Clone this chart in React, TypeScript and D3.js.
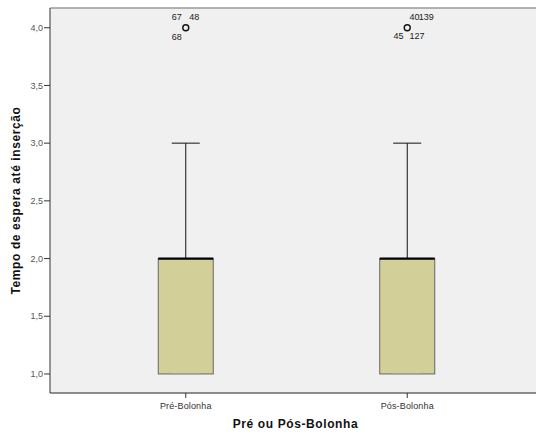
import React from "react";
import * as d3 from "d3";

const categories = ["Pré-Bolonha", "Pós-Bolonha"];
const whiskerLow = [1.0, 1.0];
const q1 = [1.0, 1.0];
const median = [2.0, 2.0];
const q3 = [2.0, 2.0];
const whiskerHigh = [3.0, 3.0];
const outlierValue = [4.0, 4.0];
const outlierLabels = [
  ["67", "48", "68"],
  ["40", "139", "45", "127"],
];
const yTicks = [1.0, 1.5, 2.0, 2.5, 3.0, 3.5, 4.0];

// label placement (layout only)
const labelLayout = [
  [
    { dx: -4, dy: -7.5, anchor: "end" },
    { dx: 3.6, dy: -8, anchor: "start" },
    { dx: -4, dy: 12, anchor: "end" },
  ],
  [
    { dx: 2.3, dy: -7.5, anchor: "start" },
    { dx: 11.5, dy: -7.5, anchor: "start" },
    { dx: -3.7, dy: 11.5, anchor: "end" },
    { dx: 2.3, dy: 11.5, anchor: "start" },
  ],
];

export default function App() {
  const W = 536, H = 432;
  const left = 50, top = 8, bottom = 393, right = 543;
  const y = d3.scaleLinear().domain([0.835, 4.171]).range([bottom, top]);
  const x = d3.scalePoint<string>().domain(categories).range([left, right]).padding(0.613);
  const boxW = 55, capW = 28;
  const font = "Arial, 'Liberation Sans', sans-serif";

  return (
    <svg width={W} height={H} style={{ position: "absolute", left: 0, top: 0 }} fontFamily={font}>
      <rect x={0} y={0} width={W} height={H} fill="#ffffff" />
      <rect x={left} y={top} width={right - left} height={bottom - top} fill="#f0f0f0" />
      <line x1={left} x2={W} y1={top} y2={top} stroke="#9a9a9a" strokeWidth={1.5} />
      <line x1={left} x2={left} y1={top} y2={bottom} stroke="#333" strokeWidth={1} />
      <line x1={left} x2={W} y1={bottom} y2={bottom} stroke="#222" strokeWidth={1.2} />

      {yTicks.map((t) => (
        <g key={t}>
          <line x1={left - 6} x2={left} y1={y(t)} y2={y(t)} stroke="#333" />
          <text x={left - 7} y={y(t) + 3.2} textAnchor="end" fontSize={9} fill="#555">
            {t.toFixed(1).replace(".", ",")}
          </text>
        </g>
      ))}

      {categories.map((c) => (
        <g key={c}>
          <line x1={x(c)!} x2={x(c)!} y1={bottom} y2={bottom + 5} stroke="#333" />
          <text x={x(c)!} y={409} textAnchor="middle" fontSize={9} letterSpacing={0.15} fill="#333">
            {c}
          </text>
        </g>
      ))}

      {categories.map((c, i) => {
        const cx = x(c)!;
        return (
          <g key={"b" + c}>
            <line x1={cx} x2={cx} y1={y(q3[i])} y2={y(whiskerHigh[i])} stroke="#111" strokeWidth={1} />
            <line x1={cx - capW / 2} x2={cx + capW / 2} y1={y(whiskerHigh[i])} y2={y(whiskerHigh[i])} stroke="#111" strokeWidth={1} />
            <line x1={cx} x2={cx} y1={y(q1[i])} y2={y(whiskerLow[i])} stroke="#111" strokeWidth={1} />
            <rect x={cx - boxW / 2} y={y(q3[i])} width={boxW} height={y(q1[i]) - y(q3[i])} fill="#d3cf98" stroke="#666" strokeWidth={1} />
            <line x1={cx - capW / 2} x2={cx + capW / 2} y1={y(whiskerLow[i])} y2={y(whiskerLow[i])} stroke="#aaa" strokeWidth={1} />
            <line x1={cx - boxW / 2} x2={cx + boxW / 2} y1={y(median[i])} y2={y(median[i])} stroke="#000" strokeWidth={2.2} />
            <circle cx={cx} cy={y(outlierValue[i])} r={3} fill="none" stroke="#111" strokeWidth={1.4} />
            {outlierLabels[i].map((lab, j) => (
              <text key={lab} x={cx + labelLayout[i][j].dx} y={y(outlierValue[i]) + labelLayout[i][j].dy}
                textAnchor={labelLayout[i][j].anchor as any} fontSize={9} fill="#222">
                {lab}
              </text>
            ))}
          </g>
        );
      })}

      <text x={295.5} y={428} textAnchor="middle" fontSize={12} letterSpacing={0.6} fontWeight="bold" fill="#111">
        Pré ou Pós-Bolonha
      </text>
      <text transform={`translate(20, ${(top + bottom) / 2}) rotate(-90)`} textAnchor="middle" fontSize={12} letterSpacing={0.6} fontWeight="bold" fill="#111">
        Tempo de espera até inserção
      </text>
    </svg>
  );
}
